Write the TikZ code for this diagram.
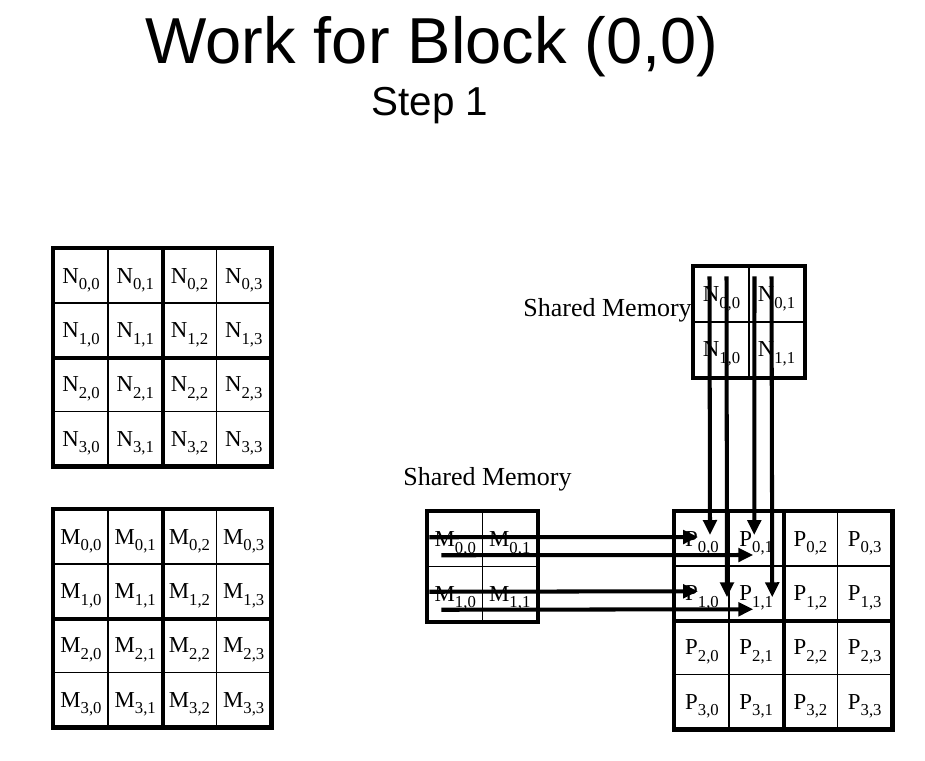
\documentclass[tikz,border=0pt]{standalone}
\usepackage{fontspec}
\setmainfont{Liberation Serif}
\newfontfamily\headfont{Liberation Sans}
\usetikzlibrary{arrows.meta}
\newcommand{\cellsub}[1]{\raisebox{-0.28em}{\fontsize{9.5}{10}\selectfont #1}}

\tikzset{
  cell/.style={draw, line width=0.8pt, minimum size=#1, inner sep=0pt,
    text height=8.5pt, text depth=0pt, font=\fontsize{13}{14}\selectfont},
  cell/.default=1.085cm,
  block/.style={line width=2.4pt},
  flow/.style={line width=2.3pt, -{Triangle[length=0.3cm, width=0.27cm]}},
  memlabel/.style={inner sep=0pt, font=\fontsize{14.8}{16}\selectfont}
}

\begin{document}
\begin{tikzpicture}[x=0.02cm, y=-0.02cm]
\useasboundingbox (0, 0) rectangle (925, 760);

\node[anchor=base, font=\headfont\fontsize{37}{40}\selectfont] (title) at (432, 64) {Work for Block (0,0)};
\node[anchor=base, font=\headfont\fontsize{23}{26}\selectfont] (step) at (430, 116) {Step 1};

% the three big matrices
\foreach \r in {0,...,3}
  \foreach \c in {0,...,3} {
    \node[cell] (n\r\c) at ({81+54.25*\c}, {276+54.25*\r}) {N\cellsub{\r,\c}};
    \node[cell] (m\r\c) at ({81+54.25*\c}, {537+54.25*\r}) {M\cellsub{\r,\c}};
    \node[cell] (p\r\c) at ({702+54.25*\c}, {539+54.25*\r}) {P\cellsub{\r,\c}};
  }
\foreach \g in {n, m, p} {
  \draw[block] (\g00.north west) rectangle (\g33.south east);
  \draw[block] (\g01.north east) -- (\g31.south east);
  \draw[block] (\g10.south west) -- (\g13.south east);
}

% shared memory tiles
\foreach \r in {0, 1}
  \foreach \c in {0, 1} {
    \node[cell=1.1cm] (sn\r\c) at ({721.5+55*\c}, {294.5+55*\r}) {N\cellsub{\r,\c}};
    \node[cell=1.09cm] (sm\r\c) at ({455.25+54.5*\c}, {539.25+54.5*\r}) {M\cellsub{\r,\c}};
  }
\draw[block] (sn00.north west) rectangle (sn11.south east);
\draw[block] (sm00.north west) rectangle (sm11.south east);

\node[memlabel, anchor=east] (snlabel) at (692, 310) {Shared Memory};
\node[memlabel, anchor=west] (smlabel) at (403, 479) {Shared Memory};

% loads from the tiles
\draw[flow] ([shift={(2,-2)}]sm00.west) -- ([shift={(-4,-2)}]p00.center);
\draw[flow] ([shift={(14,16)}]sm00.west) -- ([shift={(-3,16)}]p01.center);
\draw[flow] ([shift={(2,-2)}]sm10.west) -- ([shift={(-4,-2)}]p10.center);
\draw[flow] ([shift={(14,16)}]sm10.west) -- ([shift={(-3,16)}]p11.center);
\draw[flow] ([shift={(-12,10)}]sn00.north) -- ([shift={(8,-4)}]p00.center);
\draw[flow] ([shift={(5,10)}]sn00.north) -- ([shift={(25,4)}]p10.center);
\draw[flow] ([shift={(-22,10)}]sn01.north) -- ([shift={(-2,-4)}]p01.center);
\draw[flow] ([shift={(-5,10)}]sn01.north) -- ([shift={(16,4)}]p11.center);
\end{tikzpicture}
\end{document}
